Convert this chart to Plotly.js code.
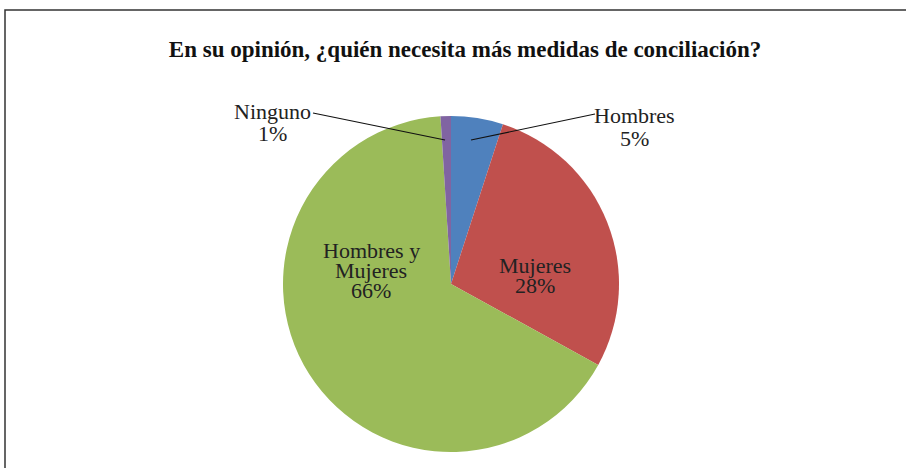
<!DOCTYPE html>
<html>
<head>
<meta charset="utf-8">
<script src="https://cdn.plot.ly/plotly-3.0.1.min.js"></script>
<style>html,body{margin:0;padding:0;background:#fff}#chart{width:906px;height:468px}</style>
</head>
<body>
<div id="chart"></div>
<script>
const categories = ['Hombres', 'Mujeres', 'Hombres y Mujeres', 'Ninguno'];
const values = [5, 28, 66, 1];
const colors = ['#4F81BD', '#C0504D', '#9BBB59', '#8064A2'];
const titleText = 'En su opinión, ¿quién necesita más medidas de conciliación?';

const W = 906, H = 468;
const px = x => x / W;
const py = y => 1 - y / H;
const cx = 451, cy = 284, R = 168;

// label lines built from the data
const labelLines = i => {
  const name = categories[i].indexOf(' y ') >= 0
    ? [categories[i].split(' y ')[0] + ' y', categories[i].split(' y ')[1]]
    : [categories[i]];
  return name.concat([values[i] + '%']);
};

// label layout (style): centre x, first baseline y, line spacing
const labelPos = [
  {x: 634, y: 122, dy: 23},
  {x: 535, y: 272, dy: 20},
  {x: 371, y: 257, dy: 20},
  {x: 272, y: 118, dy: 22}
];
const leaders = [
  {x0: 595, y0: 114, x1: 471, y1: 140},
  null, null,
  {x0: 313, y0: 113, x1: 445, y1: 140}
];

const FS = 22;
const font = {family: 'Liberation Serif, serif', size: FS, color: '#222'};

const annotations = [];
categories.forEach((c, i) => {
  labelLines(i).forEach((line, k) => {
    annotations.push({
      xref: 'paper', yref: 'paper',
      x: px(labelPos[i].x), y: py(labelPos[i].y + k * labelPos[i].dy - 0.3 * FS),
      xanchor: 'center', yanchor: 'middle',
      text: line, showarrow: false, font: font
    });
  });
});

const shapes = [{
  type: 'rect', xref: 'paper', yref: 'paper',
  x0: px(5), x1: 1.02, y0: -0.02, y1: py(10),
  line: {color: '#333', width: 1.5}, fillcolor: 'rgba(0,0,0,0)'
}];
leaders.forEach(l => {
  if (!l) return;
  shapes.push({type: 'line', xref: 'paper', yref: 'paper',
    x0: px(l.x0), y0: py(l.y0), x1: px(l.x1), y1: py(l.y1),
    line: {color: '#111', width: 1.2}});
});

const data = [{
  type: 'pie',
  labels: categories,
  values: values,
  sort: false,
  direction: 'clockwise',
  rotation: 0,
  marker: {colors: colors, line: {width: 0}},
  textinfo: 'none',
  hoverinfo: 'label+percent',
  domain: {x: [px(cx - R), px(cx + R)], y: [py(cy + R), py(cy - R)]},
  showlegend: false
}];

const layout = {
  width: W, height: H,
  margin: {l: 0, r: 0, t: 0, b: 0},
  paper_bgcolor: '#fff',
  title: {
    text: '<b>' + titleText + '</b>',
    x: px(465), xanchor: 'center',
    y: py(49), yanchor: 'middle',
    font: {family: 'Liberation Serif, serif', size: 23, color: '#111'}
  },
  annotations: annotations,
  shapes: shapes
};

Plotly.newPlot('chart', data, layout, {displayModeBar: false, staticPlot: true});
</script>
</body>
</html>
